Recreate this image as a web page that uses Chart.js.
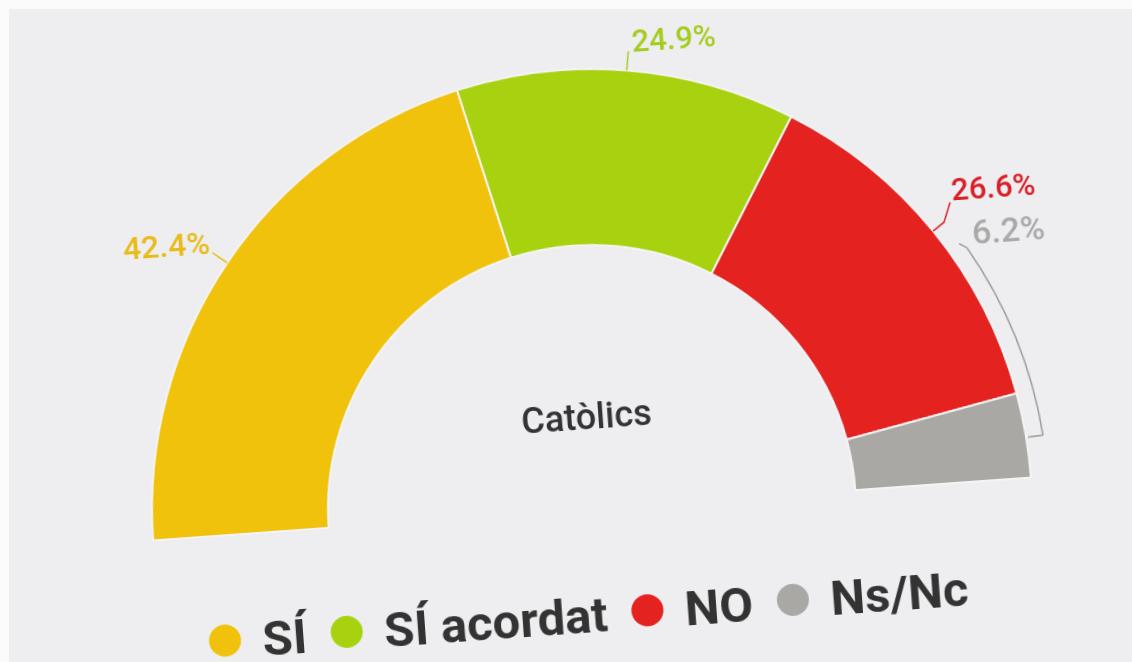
<!DOCTYPE html>
<html lang="ca">
<head>
<meta charset="UTF-8">
<title>Catòlics</title>
<style>
  html, body { margin: 0; padding: 0; }
  body { width: 1132px; height: 662px; overflow: hidden; background: #fbfbfb; position: relative; }
  .panel { position: absolute; left: 9px; top: 9px; right: 0; bottom: 0; background: #eeeef1; }
  #chart { position: absolute; left: 0; top: 0; transform-origin: 592px 509px; transform: rotate(-4.1deg); }
</style>
</head>
<body>
<div class="panel"></div>
<canvas id="chart" width="1132" height="662"></canvas>

<script src="https://cdn.jsdelivr.net/npm/chart.js@4.4.0/dist/chart.umd.min.js"></script>
<script>
// data
const categories = ['SÍ', 'SÍ acordat', 'NO', 'Ns/Nc'];
const values = [42.4, 24.9, 26.6, 6.2];
const valueLabels = ['42.4%', '24.9%', '26.6%', '6.2%'];
const sliceColors = ['#f0c20c', '#a8d20f', '#e4221f', '#aaa8a4'];
const labelColors = ['#e8bb18', '#a6cc22', '#d91f27', '#a9a9a9'];
const centerTitle = 'Catòlics';

const deg = Math.PI / 180;
function polar(cx, cy, r, a) {
    return [cx + r * Math.cos(a), cy + r * Math.sin(a)];
}
function line(ctx, pts, color) {
    ctx.strokeStyle = color;
    ctx.beginPath();
    ctx.moveTo(pts[0][0], pts[0][1]);
    for (let i = 1; i < pts.length; i++) ctx.lineTo(pts[i][0], pts[i][1]);
    ctx.stroke();
}

// value labels, leader lines, centre title and the legend
const annotations = {
    id: 'annotations',
    afterDraw(chart) {
        const ctx = chart.ctx;
        const arcs = chart.getDatasetMeta(0).data;
        const cx = arcs[0].x, cy = arcs[0].y, R = arcs[0].outerRadius;
        const mid = arcs.map(a => (a.startAngle + a.endAngle) / 2);

        ctx.save();
        ctx.lineWidth = 1.5;
        ctx.textBaseline = 'alphabetic';

        // SÍ
        let p = polar(cx, cy, R, mid[0]);
        let q = polar(cx, cy, R + 18, mid[0]);
        line(ctx, [p, q], labelColors[0]);
        ctx.font = '500 32px Roboto';
        ctx.fillStyle = labelColors[0];
        ctx.textAlign = 'right';
        ctx.fillText(valueLabels[0], q[0] - 2, q[1] + 1);

        // SÍ acordat
        p = polar(cx, cy, R, mid[1]);
        q = polar(cx, cy, R + 19, mid[1]);
        line(ctx, [p, q], labelColors[1]);
        ctx.font = '500 31px Roboto';
        ctx.fillStyle = labelColors[1];
        ctx.textAlign = 'left';
        ctx.fillText(valueLabels[1], q[0] + 4, q[1] + 1);

        // NO
        p = polar(cx, cy, R, mid[2]);
        q = polar(cx, cy, R + 14, mid[2]);
        const e = [q[0] + 7.5, q[1] - 19.4];
        line(ctx, [p, q, e], labelColors[2]);
        ctx.font = '500 31px Roboto';
        ctx.fillStyle = labelColors[2];
        ctx.fillText(valueLabels[2], e[0] + 2, e[1] - 1.5);

        // Ns/Nc bracket + label
        const rb = R + 17;
        const a1 = arcs[3].startAngle - 19.6 * deg;
        const a2 = arcs[3].endAngle - 5.2 * deg;
        ctx.strokeStyle = '#9a9a9a';
        ctx.beginPath();
        ctx.arc(cx, cy, rb, a1, a2);
        ctx.stroke();
        const b2 = polar(cx, cy, rb, a2);
        line(ctx, [b2, [b2[0] - 15, b2[1] + 1]], '#9a9a9a');
        const b1 = polar(cx, cy, rb, a1);
        line(ctx, [b1, polar(cx, cy, rb - 4, a1 - 1 * deg)], '#9a9a9a');
        ctx.font = '500 34px Roboto';
        ctx.fillStyle = labelColors[3];
        ctx.fillText(valueLabels[3], b1[0] + 6, b1[1] - 3);

        // centre title
        ctx.font = '500 36px Roboto';
        ctx.fillStyle = '#333333';
        ctx.textAlign = 'center';
        ctx.textBaseline = 'middle';
        ctx.fillText(centerTitle, cx + 1, cy - 89);

        // legend
        ctx.font = 'bold 49px Roboto';
        ctx.textAlign = 'left';
        ctx.textBaseline = 'alphabetic';
        const rDot = 16, dotToText = 21.5, textToDot = 24;
        const widths = categories.map(c => ctx.measureText(c).width);
        let total = 0;
        widths.forEach((w, i) => { total += 2 * rDot + dotToText + w + (i ? textToDot : 0); });
        let x = cx - 11 - total / 2;
        const ly = cy + 105;
        categories.forEach((c, i) => {
            ctx.fillStyle = sliceColors[i];
            ctx.beginPath();
            ctx.arc(x + rDot, ly, rDot, 0, 2 * Math.PI);
            ctx.fill();
            x += 2 * rDot + dotToText;
            ctx.fillStyle = '#333333';
            ctx.fillText(c, x, ly + 17.5);
            x += widths[i] + textToDot;
        });
        ctx.restore();
    }
};

function createChart() {
    const ctx = document.getElementById('chart').getContext('2d');
    new Chart(ctx, {
        type: 'doughnut',
        data: {
            labels: categories,
            datasets: [{
                data: values,
                backgroundColor: sliceColors,
                borderColor: '#f4f4f4',
                borderWidth: 2
            }]
        },
        options: {
            responsive: false,
            animation: false,
            devicePixelRatio: 1,
            rotation: -90,
            circumference: 180,
            cutout: '60%',
            radius: 440,
            layout: { padding: { left: 152, right: 100, top: 69, bottom: 153 } },
            plugins: {
                legend: { display: false },
                tooltip: { enabled: false }
            }
        },
        plugins: [annotations]
    });
}

Promise.all([
    document.fonts.load('bold 49px Roboto'),
    document.fonts.load('500 36px Roboto'),
    document.fonts.load('500 31px Roboto')
]).then(createChart, createChart);
</script>
</body>
</html>
